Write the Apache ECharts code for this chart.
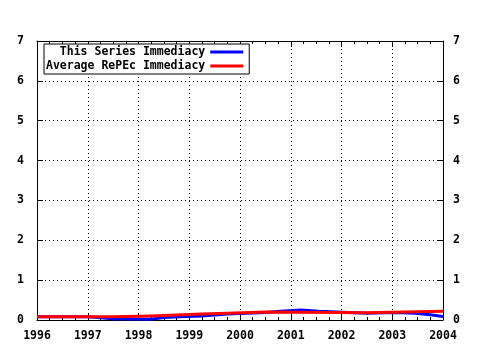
<!DOCTYPE html>
<html><head><meta charset="utf-8">
<script src="https://cdn.jsdelivr.net/npm/echarts@6/dist/echarts.min.js"></script>
<style>html,body{margin:0;padding:0;background:#fff}#c{width:480px;height:350px}</style>
</head><body><div id="c"></div>
<script>
// Step breakpoints (year where each level starts) and levels
const seriesBreaks = [1996, 1997, 1997.5, 1998.25, 1998.5, 1998.8, 1999.25, 1999.75, 2000.5, 2000.8, 2001.2, 2001.55, 2002.5, 2003.05, 2003.45, 2003.75, 2004];
const seriesValues = [0.08, 0.03, 0.02, 0.06, 0.08, 0.10, 0.15, 0.19, 0.22, 0.25, 0.22, 0.17, 0.19, 0.17, 0.13, 0.09];
const avgBreaks = [1996, 1997.5, 1998.25, 1998.75, 1999.25, 1999.75, 2000.5, 2002.5, 2004];
const avgValues = [0.08, 0.10, 0.125, 0.15, 0.17, 0.20, 0.18, 0.22];
const xTicks = [1996, 1997, 1998, 1999, 2000, 2001, 2002, 2003, 2004];
const yTicks = [0, 1, 2, 3, 4, 5, 6, 7];
const seriesNames = ['This Series Immediacy', 'Average RePEc Immediacy'];

function stepData(breaks, vals) {
  const out = [];
  for (let i = 0; i < vals.length; i++) {
    out.push([breaks[i], vals[i]]);
    out.push([breaks[i + 1], vals[i]]);
  }
  return out;
}
const font = '"DejaVu Sans Mono", monospace';
const lbl = {color: '#000', fontFamily: font, fontWeight: 'bold', fontSize: 11.5};
const xBase = {
  type: 'value', min: xTicks[0], max: xTicks[xTicks.length - 1], interval: 1,
  axisLine: {show: true, onZero: false, lineStyle: {color: '#000', width: 1}},
  axisTick: {show: true, inside: true, length: 6, lineStyle: {color: '#000'}},
  minorTick: {show: true, splitNumber: 4, length: 3, lineStyle: {color: '#000'}},
};
const yBase = {
  type: 'value', min: yTicks[0], max: yTicks[yTicks.length - 1], interval: 1,
  axisLine: {show: true, onZero: false, lineStyle: {color: '#000', width: 1}},
  axisTick: {show: true, inside: true, length: 6, lineStyle: {color: '#000'}},
};
const chart = echarts.init(document.getElementById('c'), null, {renderer: 'canvas'});
chart.setOption({
  animation: false,
  backgroundColor: '#fff',
  grid: {left: 37, right: 37, top: 41, bottom: 30, containLabel: false},
  legend: {
    show: true, orient: 'vertical', left: 44, top: 44,
    align: 'right', icon: 'rect', itemWidth: 33, itemHeight: 3, itemGap: 2,
    padding: [2, 6, 2, 2],
    borderColor: '#000', borderWidth: 1, backgroundColor: '#fff',
    textStyle: {color: '#000', fontFamily: font, fontWeight: 'bold', fontSize: 11.5, width: 160, align: 'right'},
    data: [seriesNames[0], seriesNames[1]]
  },
  xAxis: [
    Object.assign({}, xBase, {position: 'bottom',
      axisLabel: Object.assign({margin: 10, formatter: v => String(v)}, lbl),
      splitLine: {show: true, lineStyle: {color: '#000', type: [1, 3], width: 1}}}),
    Object.assign({}, xBase, {position: 'top', axisLabel: {show: false}, splitLine: {show: false}})
  ],
  yAxis: [
    Object.assign({}, yBase, {position: 'left',
      axisLabel: Object.assign({margin: 13}, lbl),
      splitLine: {show: true, lineStyle: {color: '#000', type: [1, 3], width: 1}}}),
    Object.assign({}, yBase, {position: 'right',
      axisLabel: Object.assign({margin: 10}, lbl),
      splitLine: {show: false}})
  ],
  series: [
    {name: seriesNames[0], type: 'line', data: stepData(seriesBreaks, seriesValues),
     showSymbol: false, symbol: 'none', color: '#0000ff', lineStyle: {width: 3, color: '#0000ff', join: 'miter', cap: 'butt'}, z: 2},
    {name: seriesNames[1], type: 'line', data: stepData(avgBreaks, avgValues),
     showSymbol: false, symbol: 'none', color: '#ff0000', lineStyle: {width: 3, color: '#ff0000', join: 'miter', cap: 'butt'}, z: 3}
  ]
});
</script></body></html>
